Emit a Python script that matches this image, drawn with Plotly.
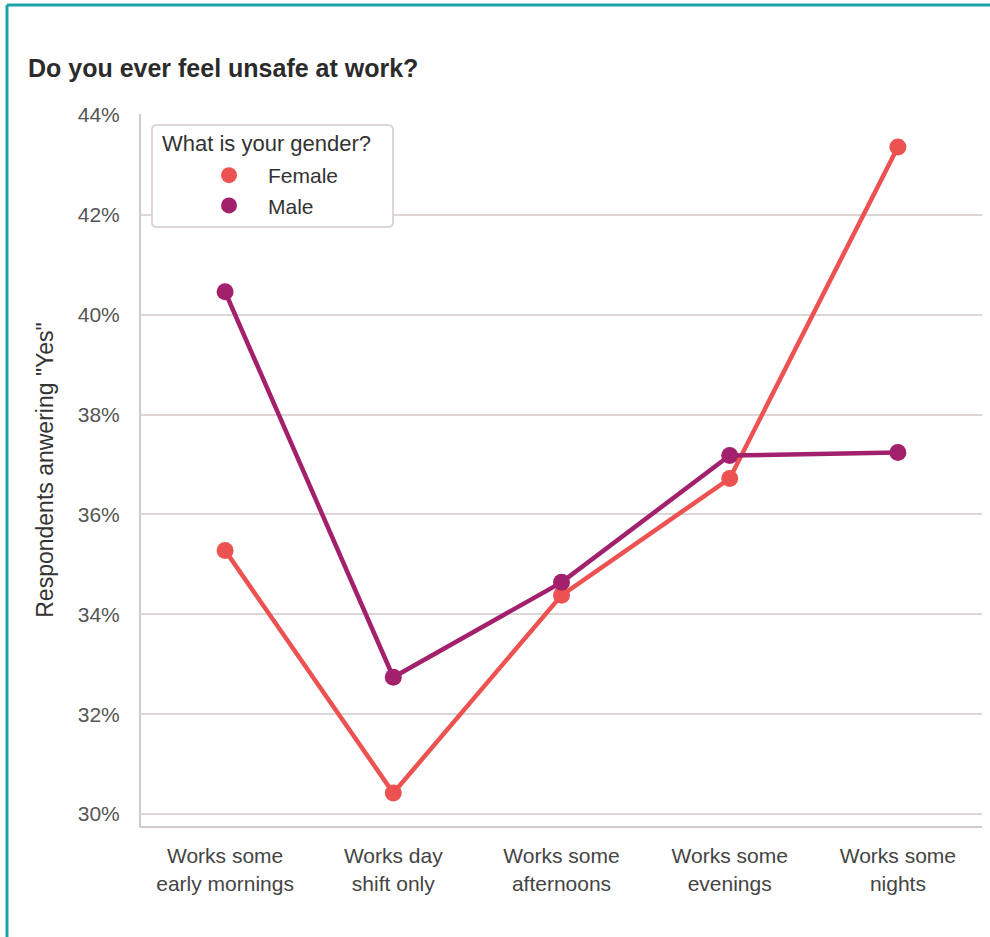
import plotly.graph_objects as go

categories = ["Works some<br>early mornings", "Works day<br>shift only", "Works some<br>afternoons",
              "Works some<br>evenings", "Works some<br>nights"]
female = [35.28, 30.42, 34.38, 36.72, 43.36]
male = [40.46, 32.74, 34.64, 37.18, 37.24]
y_ticks = [30, 32, 34, 36, 38, 40, 42, 44]
y_tick_labels = [f"{v}%" for v in y_ticks]

FEMALE_C = "#EC5252"
MALE_C = "#A3216C"

W, H = 990, 937
L, R, T, B = 141, 8, 114, 111
pw, ph = W - L - R, H - T - B

def px_x(x):
    return (x - L) / pw

def px_y(y):
    return (H - B - y) / ph

fig = go.Figure()
xs = list(range(len(categories)))
fig.add_trace(go.Scatter(x=xs, y=female, mode="lines+markers",
                         line=dict(color=FEMALE_C, width=4.5), marker=dict(size=17, color=FEMALE_C),
                         showlegend=False, hoverinfo="skip"))
fig.add_trace(go.Scatter(x=xs, y=male, mode="lines+markers",
                         line=dict(color=MALE_C, width=4.5), marker=dict(size=17, color=MALE_C),
                         showlegend=False, hoverinfo="skip"))
# legend entries (markers only)
fig.add_trace(go.Scatter(x=[None], y=[None], mode="markers", name="Female",
                         marker=dict(size=17, color=FEMALE_C)))
fig.add_trace(go.Scatter(x=[None], y=[None], mode="markers", name="Male",
                         marker=dict(size=17, color=MALE_C)))

fig.update_layout(
    width=W, height=H,
    margin=dict(l=L, r=R, t=T, b=B, autoexpand=False),
    paper_bgcolor="white", plot_bgcolor="white",
    font=dict(family="Liberation Sans, Arial, sans-serif", color="#444"),
    title=dict(text="<b>Do you ever feel unsafe at work?</b>", x=28 / W,
               xref="container", xanchor="left", yref="container", y=1 - 68 / H, yanchor="middle",
               font=dict(size=25, color="#2b2b2b")),
    xaxis=dict(range=[-0.5, 4.5], tickmode="array", tickvals=xs,
               ticktext=categories, showgrid=False, zeroline=False,
               showline=True, linecolor="#d3cbc9", linewidth=2,
               ticks="outside", ticklen=10, tickcolor="rgba(0,0,0,0)",
               tickfont=dict(size=21, color="#444")),
    yaxis=dict(range=[29.76, 44.02], tickmode="array", tickvals=y_ticks, ticktext=y_tick_labels,
               showgrid=True, gridcolor="#ddd6d4", gridwidth=2, zeroline=False,
               showline=True, linecolor="#d3cbc9", linewidth=2,
               ticks="outside", ticklen=15, tickcolor="rgba(0,0,0,0)",
               tickfont=dict(size=21, color="#555"),
               title=dict(text='Respondents anwering "Yes"', standoff=18,
                          font=dict(size=23, color="#333"))),
    legend=dict(x=px_x(190), y=px_y(155), xanchor="left", yanchor="top",
                bgcolor="rgba(0,0,0,0)", borderwidth=0,
                font=dict(size=21, color="#333"), itemwidth=68, tracegroupgap=0),
)

# legend box (rounded) and title
x0, x1, y0, y1, r = 152, 393, 125, 227, 5
path = (f"M {px_x(x0 + r)} {px_y(y0)} L {px_x(x1 - r)} {px_y(y0)} "
        f"Q {px_x(x1)} {px_y(y0)} {px_x(x1)} {px_y(y0 + r)} L {px_x(x1)} {px_y(y1 - r)} "
        f"Q {px_x(x1)} {px_y(y1)} {px_x(x1 - r)} {px_y(y1)} L {px_x(x0 + r)} {px_y(y1)} "
        f"Q {px_x(x0)} {px_y(y1)} {px_x(x0)} {px_y(y1 - r)} L {px_x(x0)} {px_y(y0 + r)} "
        f"Q {px_x(x0)} {px_y(y0)} {px_x(x0 + r)} {px_y(y0)} Z")
fig.add_shape(type="path", xref="paper", yref="paper", path=path,
              fillcolor="white", line=dict(color="#ddd6d4", width=2), layer="above")
fig.add_annotation(text="What is your gender?", xref="paper", yref="paper",
                   x=px_x(160), y=px_y(143), xanchor="left", yanchor="middle",
                   showarrow=False, font=dict(size=22, color="#333"))

teal = "#1AA3A8"
fig.add_shape(type="line", xref="paper", yref="paper",
              x0=px_x(7), x1=px_x(7), y0=px_y(5), y1=px_y(945),
              line=dict(color=teal, width=3))
fig.add_shape(type="line", xref="paper", yref="paper",
              x0=px_x(7), x1=px_x(995), y0=px_y(5), y1=px_y(5),
              line=dict(color=teal, width=3))

fig.write_html("out.html")
